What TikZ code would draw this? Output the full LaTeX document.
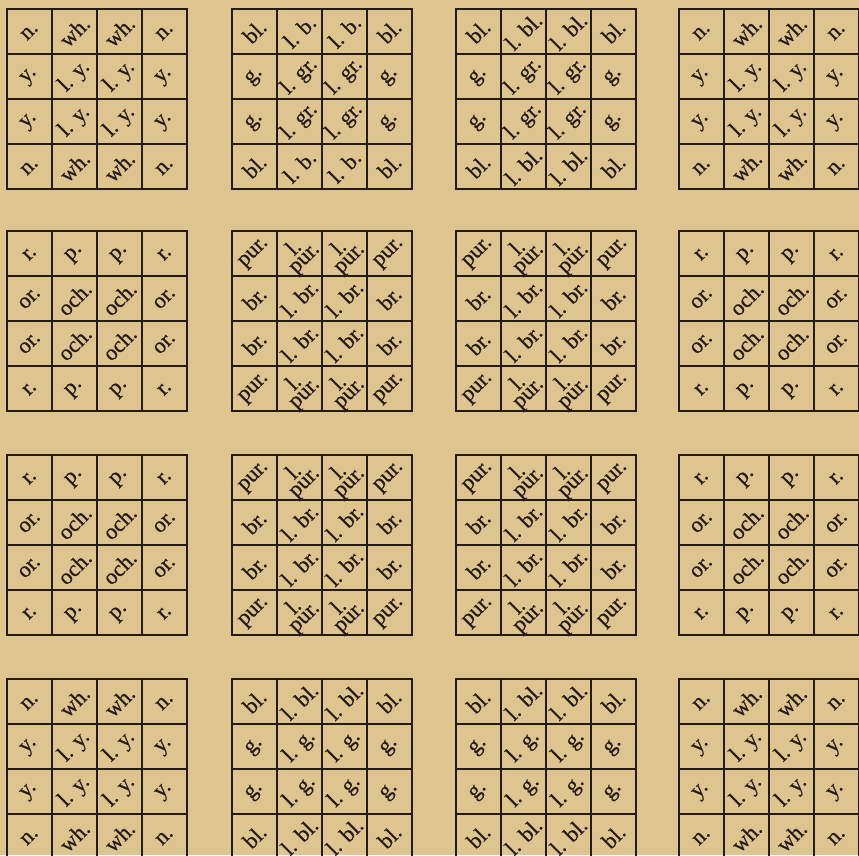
\documentclass[tikz,border=0pt]{standalone}
\usepackage{fontspec}
\setmainfont{Liberation Serif}
\newfontfamily\tipo[FakeBold=0.5]{Liberation Serif}
\usepackage{tikz}
\definecolor{fondo}{RGB}{221,197,143}
\definecolor{tinta}{RGB}{38,26,20}
\tikzset{
    rejilla/.style={draw=tinta, line width=1.2pt},
    marco/.style={draw=tinta, line width=1.8pt},
    rotulo/.style={
        rotate=45, inner sep=0pt,
        align=center, text=tinta,
        font=\tipo\fontsize{19}{12}\selectfont
    }
}
% #1 nombre, #2 x, #3 y, #4 esquina, #5 arriba/abajo, #6 lados, #7 centro
\newcommand{\tablero}[7]{%
    \begin{scope}[shift={(#2,#3)}]
        \foreach \k in {45,90,135} {
            \draw[rejilla] (\k,0) -- (\k,180);
            \draw[rejilla] (0,\k) -- (180,\k);
        }
        \draw[marco] (0,0) rectangle (180,180);
        \foreach \c/\f/\txt in {0/0/{#4},1/0/{#5},2/0/{#5},3/0/{#4},
                                0/1/{#6},1/1/{#7},2/1/{#7},3/1/{#6},
                                0/2/{#6},1/2/{#7},2/2/{#7},3/2/{#6},
                                0/3/{#4},1/3/{#5},2/3/{#5},3/3/{#4}}
            \node[rotulo] (#1-\f\c) at (22.5+45*\c,22.5+45*\f) {\txt};
    \end{scope}}

\begin{document}
\begin{tikzpicture}[x=0.03cm, y=-0.03cm]

    \useasboundingbox (0,0) rectangle (859,855);
    \fill[fondo] (0,0) rectangle (859,855);
    \clip (0,0) rectangle (859,855);

    % fila 1
    \tablero{a1}{7}{9}{n.}{wh.}{y.}{l. y.}
    \tablero{a2}{232}{9}{bl.}{l. b.}{g.}{l. gr.}
    \tablero{a3}{456}{9}{bl.}{l. bl.}{g.}{l. gr.}
    \tablero{a4}{679}{9}{n.}{wh.}{y.}{l. y.}

    % fila 2
    \tablero{b1}{7}{231}{r.}{p.}{or.}{och.}
    \tablero{b2}{232}{231}{pur.}{l.\\pur.}{br.}{l. br.}
    \tablero{b3}{456}{231}{pur.}{l.\\pur.}{br.}{l. br.}
    \tablero{b4}{679}{231}{r.}{p.}{or.}{och.}

    % fila 3
    \tablero{c1}{7}{455}{r.}{p.}{or.}{och.}
    \tablero{c2}{232}{455}{pur.}{l.\\pur.}{br.}{l. br.}
    \tablero{c3}{456}{455}{pur.}{l.\\pur.}{br.}{l. br.}
    \tablero{c4}{679}{455}{r.}{p.}{or.}{och.}

    % fila 4
    \tablero{d1}{7}{679}{n.}{wh.}{y.}{l. y.}
    \tablero{d2}{232}{679}{bl.}{l. bl.}{g.}{l. g.}
    \tablero{d3}{456}{679}{bl.}{l. bl.}{g.}{l. g.}
    \tablero{d4}{679}{679}{n.}{wh.}{y.}{l. y.}

\end{tikzpicture}
\end{document}
